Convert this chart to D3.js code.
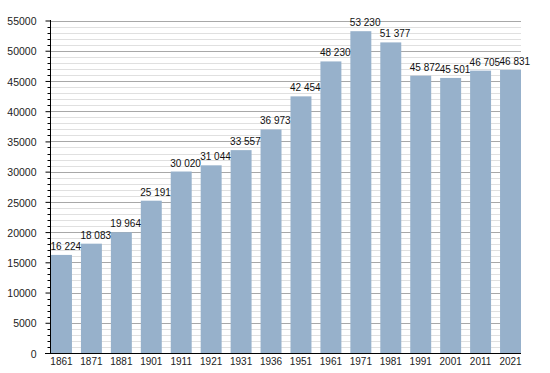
<!DOCTYPE html>
<html>
<head>
<meta charset="utf-8">
<script src="https://cdn.jsdelivr.net/npm/d3@7"></script>
<style>
    body { margin: 0; padding: 0; background: #fff; }
    svg { display: block; font-family: 'Liberation Sans', Arial, sans-serif; }
</style>
</head>
<body>
<div id="main"></div>
<script>
const years = ['1861', '1871', '1881', '1901', '1911', '1921', '1931', '1936', '1951', '1961', '1971', '1981', '1991', '2001', '2011', '2021'];
const population = [16224, 18083, 19964, 25191, 30020, 31044, 33557, 36973, 42454, 48230, 53230, 51377, 45872, 45501, 46705, 46831];
const majorTicks = [0, 5000, 10000, 15000, 20000, 25000, 30000, 35000, 40000, 45000, 50000, 55000];
const minorTicks = d3.range(0, 55001, 1000).filter((v) => v % 5000 !== 0);

const CANVASWIDTH = 550;
const CANVASHEIGHT = 373;
const LEFT = 50;
const RIGHT = 521;
const TOP = 20.5;
const BOTTOM = 353;

const dataSet = years.map((year, i) => ({year: year, value: population[i]}));
const formatValue = (v) => d3.format(',')(v).replace(/,/g, ' ');

const scaleX = d3.scaleBand().domain(years).range([LEFT + 1, RIGHT]).paddingInner(0.3).paddingOuter(0);
const scaleY = d3.scaleLinear().domain([0, 55000]).range([BOTTOM, TOP]);

const canvas = d3.select('#main').append('svg').attr('width', CANVASWIDTH).attr('height', CANVASHEIGHT);

// grid: light minor lines every 1000, darker major every 5000
canvas.append('g').selectAll('line').data(minorTicks).enter().append('line')
    .attr('x1', LEFT).attr('x2', RIGHT)
    .attr('y1', (d) => Math.round(scaleY(d)) + 0.5).attr('y2', (d) => Math.round(scaleY(d)) + 0.5)
    .attr('stroke', '#e0e0e0').attr('stroke-width', 1);
canvas.append('g').selectAll('line').data(majorTicks.slice(1)).enter().append('line')
    .attr('x1', LEFT).attr('x2', RIGHT)
    .attr('y1', (d) => Math.round(scaleY(d)) + 0.5).attr('y2', (d) => Math.round(scaleY(d)) + 0.5)
    .attr('stroke', '#a8a8a8').attr('stroke-width', 1);

canvas.append('g').selectAll('rect').data(dataSet).enter().append('rect')
    .attr('x', (d) => scaleX(d.year))
    .attr('y', (d) => scaleY(d.value))
    .attr('width', scaleX.bandwidth())
    .attr('height', (d) => BOTTOM - scaleY(d.value))
    .attr('fill', '#97b1cb');

canvas.append('g').selectAll('text').data(dataSet).enter().append('text')
    .attr('x', (d) => scaleX(d.year) - 0.5)
    .attr('y', (d) => scaleY(d.value) - 5)
    .attr('font-size', '10px')
    .attr('fill', '#111')
    .text((d) => formatValue(d.value));

// y axis with major and minor ticks
const axisY = d3.axisLeft(scaleY).tickValues(majorTicks).tickSize(5).tickPadding(9).tickFormat(d3.format('d'));
const gy = canvas.append('g').attr('transform', `translate(${LEFT + 0.5}, 0)`).call(axisY);
gy.select('.domain').remove();
gy.selectAll('.tick line').attr('stroke', '#000');
gy.selectAll('.tick text').attr('font-size', '10.5px').attr('font-family', null).attr('fill', '#222').attr('dy', '0.4em');
gy.append('g').selectAll('line').data(minorTicks).enter().append('line')
    .attr('x1', -3).attr('x2', 0)
    .attr('y1', (d) => Math.round(scaleY(d)) + 0.5).attr('y2', (d) => Math.round(scaleY(d)) + 0.5)
    .attr('stroke', '#000');
gy.append('line').attr('x1', 0).attr('x2', 0).attr('y1', TOP - 0.5).attr('y2', BOTTOM).attr('stroke', '#000');

// x axis
canvas.append('line')
    .attr('x1', LEFT - 5).attr('x2', RIGHT)
    .attr('y1', BOTTOM + 0.5).attr('y2', BOTTOM + 0.5)
    .attr('stroke', '#000');
canvas.append('g').selectAll('text').data(years).enter().append('text')
    .attr('x', (d) => scaleX(d) + scaleX.bandwidth() / 2)
    .attr('y', BOTTOM + 12)
    .attr('text-anchor', 'middle')
    .attr('font-size', '10px')
    .attr('fill', '#222')
    .text((d) => d);
</script>
</body>
</html>
